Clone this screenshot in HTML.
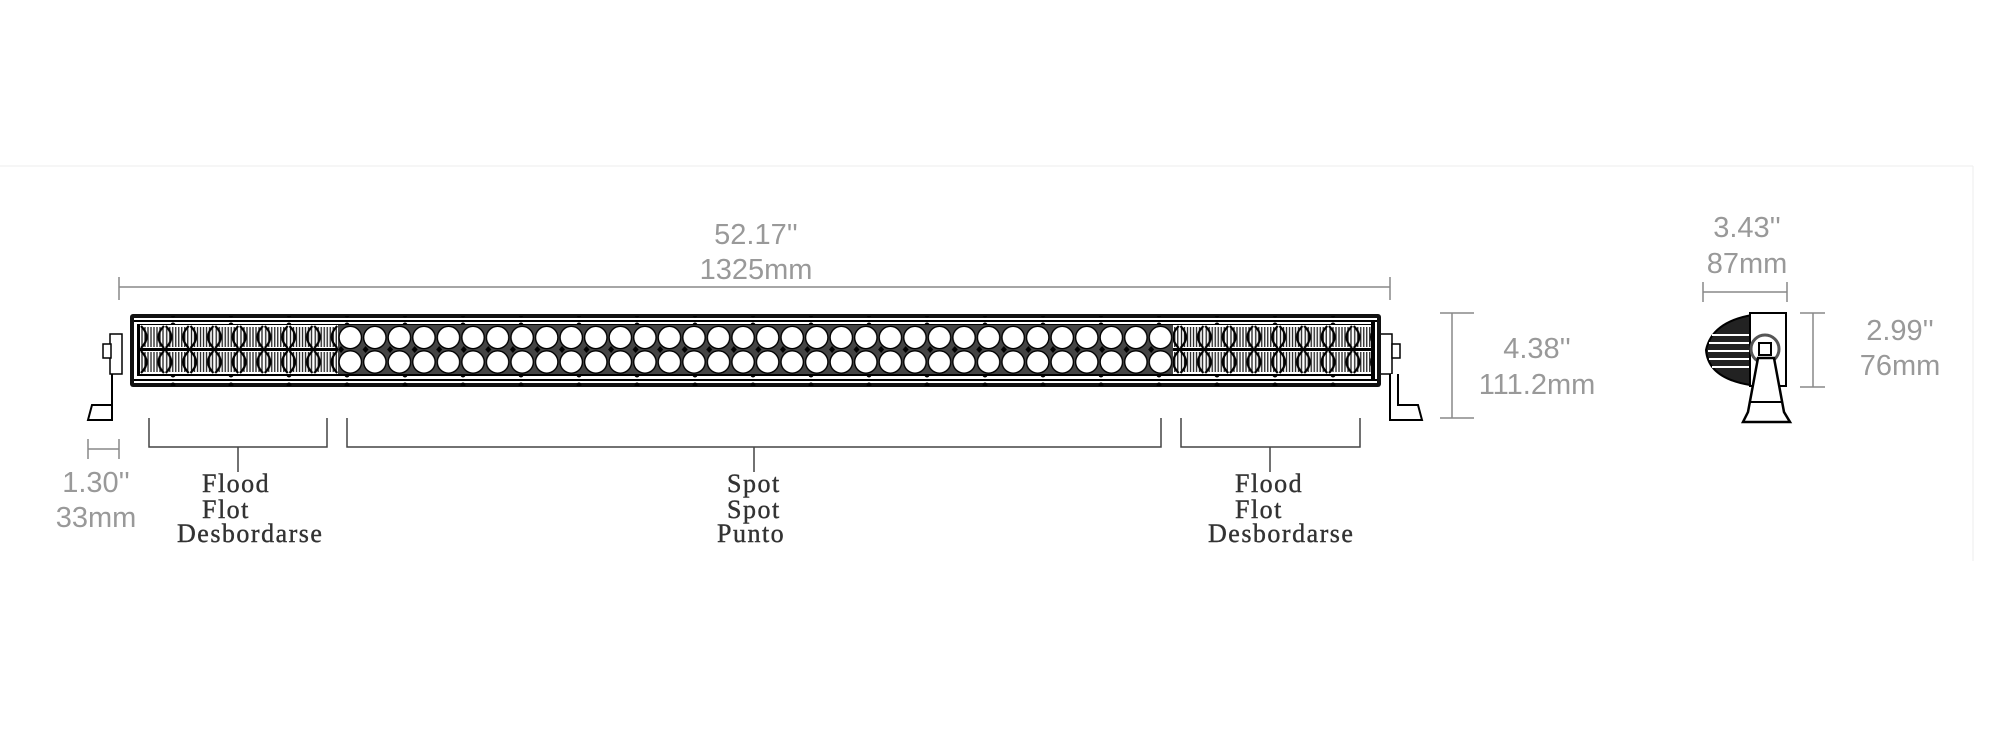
<!DOCTYPE html>
<html><head><meta charset="utf-8"><style>
html,body{margin:0;padding:0;background:#fff;width:2000px;height:750px;overflow:hidden}
svg{display:block}
.d{font-family:"Liberation Sans",sans-serif;font-size:29px;fill:#999;text-anchor:middle}
.l{font-family:"Liberation Serif",serif;font-size:26px;fill:#333;stroke:#333;stroke-width:0.4;letter-spacing:1.5px}
</style></head><body>
<svg width="2000" height="750" viewBox="0 0 2000 750" xmlns="http://www.w3.org/2000/svg">
<defs>
<pattern id="spot" x="338" y="325" width="24.55" height="49" patternUnits="userSpaceOnUse">
<rect width="24.55" height="49" fill="#444"/>
<path d="M0 24.5L3 21L6 24.5L3 28Z" fill="#000"/>
<circle cx="12.3" cy="12.5" r="11.2" fill="#fff" stroke="#000" stroke-width="1.4"/>
<circle cx="12.3" cy="37" r="11.2" fill="#fff" stroke="#000" stroke-width="1.4"/>
</pattern>
<pattern id="flood" x="140" y="325" width="24.75" height="49" patternUnits="userSpaceOnUse">
<rect width="24.75" height="49" fill="#fff"/>
<path d="M2 2V22M5 2V22M8 2V22M11 2V22M14 2V22M17 2V22M20 2V22M23 2V22M2 27V47M5 27V47M8 27V47M11 27V47M14 27V47M17 27V47M20 27V47M23 27V47" stroke="#222" stroke-width="1.3"/>
<path d="M1 1Q12 12 1 23M24 1Q13 12 24 23M1 26Q12 37 1 48M24 26Q13 37 24 48" stroke="#000" stroke-width="2.2" fill="none"/>
<rect x="0" y="23" width="24.75" height="3" fill="#000"/>
</pattern>
<pattern id="bolt" x="100" y="0" width="58" height="10" patternUnits="userSpaceOnUse">
<circle cx="15" cy="5" r="2.5" fill="#000"/>
</pattern>
</defs>
<line x1="0" y1="166" x2="1973" y2="166" stroke="#eee" stroke-width="1"/>
<line x1="1973" y1="166" x2="1973" y2="561" stroke="#eee" stroke-width="1"/>

<text class="d" x="756" y="244">52.17''</text>
<text class="d" x="756" y="279">1325mm</text>
<line x1="119" y1="287" x2="1390" y2="287" stroke="#888" stroke-width="1.5"/>
<line x1="119" y1="277" x2="119" y2="300" stroke="#888" stroke-width="1.5"/>
<line x1="1390" y1="277" x2="1390" y2="300" stroke="#888" stroke-width="1.5"/>

<rect x="110" y="334" width="12" height="40" fill="#fff" stroke="#000" stroke-width="1.5"/>
<rect x="103" y="344" width="8" height="14" fill="#fff" stroke="#000" stroke-width="1.5"/>
<path d="M112 374V420H88L92 405H112" fill="#fff" stroke="#000" stroke-width="2"/>
<rect x="1380" y="334" width="12" height="40" fill="#fff" stroke="#000" stroke-width="1.5"/>
<rect x="1392" y="344" width="8" height="14" fill="#fff" stroke="#000" stroke-width="1.5"/>
<path d="M1390 374V420H1422L1418 405H1398V374" fill="#fff" stroke="#000" stroke-width="2"/>

<rect x="130" y="314" width="1251" height="73" rx="3" fill="#111"/>
<rect x="134" y="318" width="1243" height="65" fill="#fff"/>
<rect x="134" y="320" width="1243" height="2" fill="#000"/>
<rect x="134" y="379" width="1243" height="2" fill="#000"/>
<rect x="140" y="316" width="1231" height="10" fill="url(#bolt)"/>
<rect x="140" y="376" width="1231" height="10" fill="url(#bolt)"/>
<rect x="137" y="324" width="1237" height="52" fill="#000"/>
<rect x="140" y="325" width="198" height="49" fill="url(#flood)"/>
<rect x="338" y="325" width="835" height="49" fill="url(#spot)"/>
<rect x="1173" y="325" width="198" height="49" fill="url(#flood)"/>
<rect x="1371" y="322" width="4" height="58" fill="#000"/>

<line x1="1452" y1="313" x2="1452" y2="418" stroke="#888" stroke-width="1.5"/>
<line x1="1440" y1="313" x2="1474" y2="313" stroke="#888" stroke-width="1.5"/>
<line x1="1440" y1="418" x2="1474" y2="418" stroke="#888" stroke-width="1.5"/>
<text class="d" x="1537" y="358">4.38''</text>
<text class="d" x="1537" y="394">111.2mm</text>

<line x1="88" y1="449" x2="119" y2="449" stroke="#888" stroke-width="1.5"/>
<line x1="88" y1="439" x2="88" y2="459" stroke="#888" stroke-width="1.5"/>
<line x1="119" y1="439" x2="119" y2="459" stroke="#888" stroke-width="1.5"/>
<text class="d" x="96" y="492">1.30''</text>
<text class="d" x="96" y="527">33mm</text>

<g stroke="#444" stroke-width="1.5" fill="none">
<path d="M149 418V447H327V418M238 447V472"/>
<path d="M347 418V447H1161V418M754 447V472"/>
<path d="M1181 418V447H1360V418M1270 447V472"/>
</g>
<text class="l" x="202" y="492">Flood</text>
<text class="l" x="202" y="518">Flot</text>
<text class="l" x="177" y="542">Desbordarse</text>
<text class="l" x="727" y="492">Spot</text>
<text class="l" x="727" y="518">Spot</text>
<text class="l" x="717" y="542">Punto</text>
<text class="l" x="1235" y="492">Flood</text>
<text class="l" x="1235" y="518">Flot</text>
<text class="l" x="1208" y="542">Desbordarse</text>

<text class="d" x="1747" y="237">3.43''</text>
<text class="d" x="1747" y="273">87mm</text>
<line x1="1703" y1="292" x2="1787" y2="292" stroke="#888" stroke-width="1.5"/>
<line x1="1703" y1="282" x2="1703" y2="302" stroke="#888" stroke-width="1.5"/>
<line x1="1787" y1="282" x2="1787" y2="302" stroke="#888" stroke-width="1.5"/>
<path d="M1752 315Q1712 322 1706 350Q1708 378 1750 385Z" fill="#222" stroke="#000" stroke-width="2"/>
<path d="M1712 335H1750M1709 343H1750M1708 351H1750M1709 359H1750M1712 367H1750" stroke="#fff" stroke-width="2"/>
<path d="M1750 313H1786V386H1750Z" fill="#fff" stroke="#000" stroke-width="2"/>
<circle cx="1765" cy="349" r="14" fill="#fff" stroke="#555" stroke-width="3"/>
<rect x="1759" y="343" width="12" height="12" fill="#fff" stroke="#000" stroke-width="2"/>
<path d="M1758 358L1748 412L1743 422H1790L1784 412L1774 358Z" fill="#fff" stroke="#000" stroke-width="2.5"/>
<path d="M1750 402H1782" stroke="#000" stroke-width="2"/>
<line x1="1813" y1="313" x2="1813" y2="387" stroke="#888" stroke-width="1.5"/>
<line x1="1800" y1="313" x2="1825" y2="313" stroke="#888" stroke-width="1.5"/>
<line x1="1800" y1="387" x2="1825" y2="387" stroke="#888" stroke-width="1.5"/>
<text class="d" x="1900" y="340">2.99''</text>
<text class="d" x="1900" y="375">76mm</text>
</svg>
</body></html>
